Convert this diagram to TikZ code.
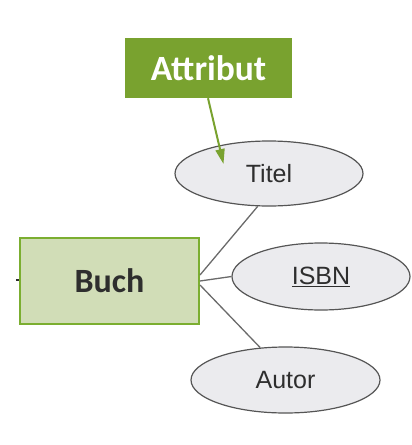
\documentclass[tikz,border=0pt]{standalone}
\usepackage{fontspec}
\setmainfont{Liberation Sans}
\newfontfamily\carlito{Carlito}
\usetikzlibrary{shapes.geometric,arrows.meta}
\definecolor{attrgreen}{HTML}{79A22F}
\definecolor{boxgreen}{HTML}{7BAE30}
\definecolor{boxfill}{HTML}{D1DDB7}
\definecolor{ellfill}{HTML}{EBEBEE}
\definecolor{ellline}{HTML}{555555}
\definecolor{conn}{HTML}{6A6A6A}
\definecolor{labtext}{HTML}{2E2E2E}
\tikzset{
  attr/.style={ellipse, draw=ellline, line width=1.2pt, fill=ellfill, inner sep=0pt,
    minimum width=188pt, minimum height=65pt, text=labtext,
    font=\fontsize{25}{30}\selectfont},
  entitybox/.style={rectangle, draw=boxgreen, line width=2pt, fill=boxfill,
    minimum width=179pt, minimum height=86pt, inner sep=0pt, text=labtext,
    font=\carlito\bfseries\fontsize{34}{40}\selectfont},
  labelbox/.style={rectangle, fill=attrgreen, minimum width=167pt, minimum height=60pt,
    inner sep=0pt, text=white, font=\carlito\bfseries\fontsize{35.5}{40}\selectfont},
  connector/.style={draw=conn, line width=1.3pt},
  pointer/.style={draw=attrgreen, line width=2pt, -{Triangle[length=15pt,width=9pt]}}
}
\begin{document}
\begin{tikzpicture}[x=1pt,y=-1pt]
\useasboundingbox (0,0) rectangle (412,445);
\node[labelbox] (attrlabel) at (208.5,68) {Attribut};
\node[entitybox] (buch) at (109.5,281) {Buch};
\node[attr] (titel) at (269,173.5) {Titel};
\node[attr, minimum width=178pt, minimum height=67pt] (isbn) at (321,276.5) {\underline{ISBN}};
\node[attr, minimum width=189pt, minimum height=66pt] (autor) at (285.5,380) {Autor};
\coordinate (stub) at (16,280);
\coordinate (tip) at (223.5,164);
\draw[pointer] (attrlabel.south -| 208,0) -- (tip);
\draw[connector] ([yshift=6pt]buch.east) -- (titel.251);
\draw[connector] (buch.east) -- (isbn.west);
\draw[connector] ([yshift=-4pt]buch.east) -- (autor.128);
\draw[draw=labtext, line width=2pt] (stub) -- (buch.west |- stub);
\end{tikzpicture}
\end{document}
